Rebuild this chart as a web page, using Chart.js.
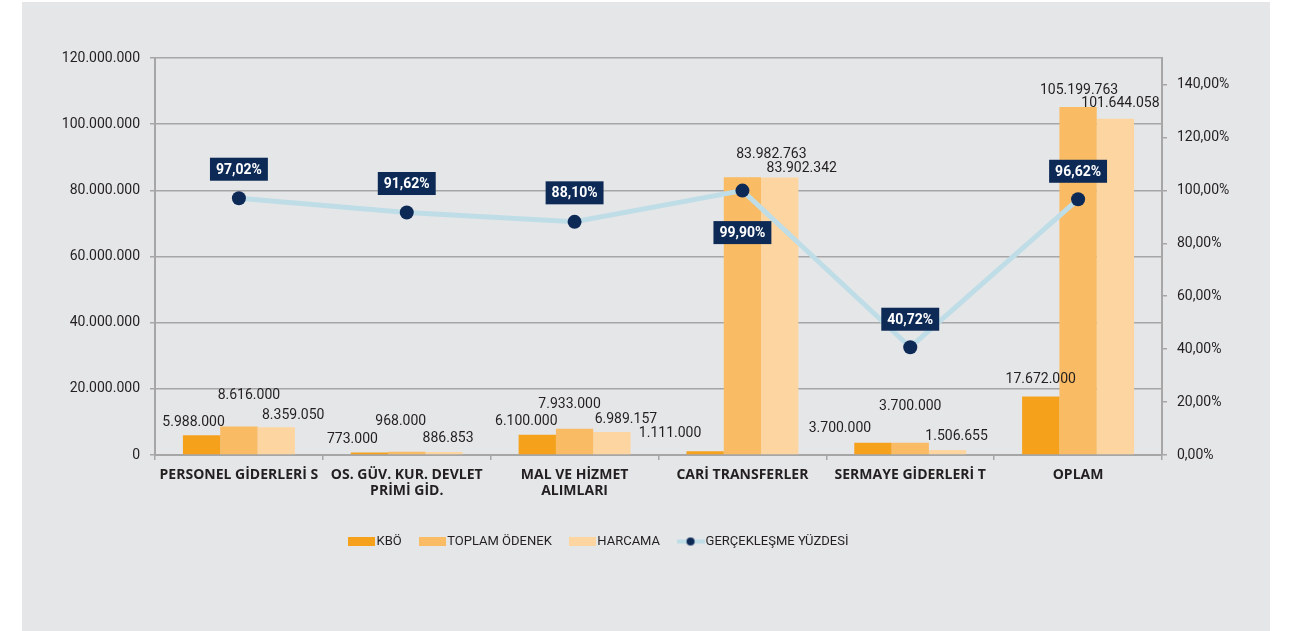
<!DOCTYPE html>
<html lang="tr"><head>
<meta charset="utf-8">
<title>Bütçe Gerçekleşme</title>
<style>
body   { margin:0; background:#ffffff; }
#panel { position:absolute; left:22px; top:2px; width:1248px; height:629px; background:#e5e6e8; }
</style>
<script src="https://cdn.jsdelivr.net/npm/chart.js@4"></script>
<script>

const categories   = ['PERSONEL GİDERLERİ S', ['OS. GÜV. KUR. DEVLET','PRİMİ GİD.'], ['MAL VE HİZMET','ALIMLARI'], 'CARİ TRANSFERLER', 'SERMAYE GİDERLERİ T', 'OPLAM'];
const kbo          = [5988000, 773000, 6100000, 1111000, 3700000, 17672000];
const toplamOdenek = [8616000, 968000, 7933000, 83982763, 3700000, 105199763];
const harcama      = [8359050, 886853, 6989157, 83902342, 1506655, 101644058];
const gerceklesme  = [97.02, 91.62, 88.10, 99.90, 40.72, 96.62];

const cKbo='#f5a11c', cToplam='#f9bb63', cHarcama='#fdd5a0', cLine='#bfdde7', cNavy='#0d2a57', cGrid='#a6a6a6', cText='#231f20';

function fmtNum(v) { return String(v).replace(/\B(?=(\d{3})+(?!\d))/g,'.'); }
function fmtPct(v) { return v.toFixed(2).replace('.',',')+'%'; }

function boxIcon(color) {
  const c=document.createElement('canvas'); c.width=27; c.height=9;
  const g=c.getContext('2d'); g.fillStyle=color; g.fillRect(0,0,27,9); return c; }

function lineIcon() {
  const c=document.createElement('canvas'); c.width=28; c.height=10;
  const g=c.getContext('2d');
  g.strokeStyle=cLine; g.lineWidth=4; g.beginPath(); g.moveTo(0,5); g.lineTo(28,5); g.stroke();
  g.fillStyle=cNavy; g.beginPath(); g.arc(14,5,4,0,2*Math.PI); g.fill(); return c; }

// label nudges (dx, dy from bar top) so the numbers sit like in the original
const barShift = [
  [[-8,-13],[-17,-13],[-11,-13],[-35,-18],[-33,-14],[0,-17]],
  [[10,-31],[-6,-30],[-5,-24],[29,-23],[0,-36],[1,-16]],
  [[17,-12],[4,-14],[14,-12],[22,-9],[9,-14],[5,-15]]];
const lineShift = [-29,-29,-29,42,-28,-28];

const valueLabels = {
  id:'valueLabels',
  afterDatasetsDraw(chart) {
    const ctx=chart.ctx; ctx.save();
    ctx.textAlign='center'; ctx.textBaseline='middle';
    chart.data.datasets.forEach((ds,i) => {
      chart.getDatasetMeta(i).data.forEach((el,j) => {
        if (ds.type==='line') {
          const t=fmtPct(ds.data[j]);
          ctx.font='bold 14px Roboto';
          const w=ctx.measureText(t).width+12, h=23, cx=el.x, cy=el.y+lineShift[j];
          ctx.fillStyle=cNavy; ctx.fillRect(cx-w/2,cy-h/2,w,h);
          ctx.fillStyle='#ffffff'; ctx.fillText(t,cx,cy+1);
        } else {
          ctx.font='14px Roboto'; ctx.fillStyle=cText;
          ctx.fillText(fmtNum(ds.data[j]), el.x+barShift[i][j][0], el.y+barShift[i][j][1]);
        } }); });
    ctx.restore(); } };

const legendShift = {
  id:'legendShift',
  afterLayout(chart) { chart.legend.left=309; } };

function initChart() {
  const icons=[boxIcon(cKbo),boxIcon(cToplam),boxIcon(cHarcama),lineIcon()];
  const axisFont={family:'Roboto',size:14};
  new Chart(document.getElementById('chart'),{
    type:'bar',
    data:{labels:categories,datasets:[
      {label:'KBÖ',data:kbo,backgroundColor:cKbo,yAxisID:'y',order:1},
      {label:'TOPLAM ÖDENEK',data:toplamOdenek,backgroundColor:cToplam,yAxisID:'y',order:1},
      {label:'HARCAMA',data:harcama,backgroundColor:cHarcama,yAxisID:'y',order:1},
      {type:'line',label:'GERÇEKLEŞME YÜZDESİ',data:gerceklesme,yAxisID:'y1',order:0,
       borderColor:cLine,borderWidth:5,pointRadius:7,pointBorderWidth:0,
       pointBackgroundColor:cNavy,tension:0}]},
    options:{
      responsive:false,animation:false,events:[],
      categoryPercentage:0.667,barPercentage:1,
      layout:{padding:{top:56,left:0,right:0,bottom:73}},
      scales:{
        x:{ticks:{font:{family:'Open Sans',size:14,weight:'bold',lineHeight:1.15},color:cText,padding:7,maxRotation:0,autoSkip:false},
           grid:{drawOnChartArea:false,color:cGrid,lineWidth:1.5,tickLength:5},
           border:{color:cGrid,width:2},
           afterFit:function(s){ s.height=58; }},
        y:{position:'left',min:0,max:120000000,
           ticks:{stepSize:20000000,font:axisFont,color:cText,padding:10,callback:v=>fmtNum(v)},
           grid:{color:cGrid,lineWidth:1.5,tickLength:5},
           border:{color:cGrid,width:2},
           afterFit:function(s){ s.width=133; }},
        y1:{position:'right',min:0,max:150,
           ticks:{stepSize:20,font:axisFont,color:cText,padding:10,callback:v=>fmtPct(v)},
           grid:{drawOnChartArea:false,color:cGrid,lineWidth:1.5,tickLength:5},
           border:{color:cGrid,width:2},
           afterBuildTicks:function(s){ s.ticks=s.ticks.filter(t=>t.value<=140); },
           afterFit:function(s){ s.width=108; }}},
      plugins:{
        tooltip:{enabled:false},
        legend:{position:'bottom',align:'start',
          labels:{usePointStyle:true,pointStyleWidth:17,padding:22,color:cText,
            font:{family:'Roboto',size:13},
            sort:(a,b)=>a.datasetIndex-b.datasetIndex,
            generateLabels:function(chart){
              const items=Chart.defaults.plugins.legend.labels.generateLabels(chart);
              items.forEach(it=>{ it.pointStyle=icons[it.datasetIndex]; });
              return items; }}}}},
    plugins:[valueLabels,legendShift]});
}
</script></head>
<body onload="initChart();">
<div id="panel"><canvas id="chart" width="1248" height="629"></canvas></div>
</body></html>
